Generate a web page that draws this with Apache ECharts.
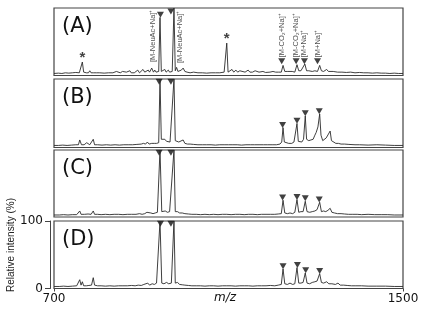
<!DOCTYPE html>
<html>
<head>
<meta charset="utf-8">
<script src="https://cdn.jsdelivr.net/npm/echarts@6/dist/echarts.min.js"></script>
<style>
html, body { margin: 0; padding: 0; background: #fff; }
#chart { width: 426px; height: 318px; }
</style>
</head>
<body>
<div id="chart"></div>
<script>
// spectrum data (m/z, relative intensity %)
var mzA = [700,710,718,726,734,742,750,758,762,765,768,774,779,782,785,790,794,797,805,815,825,835,843,847,852,857,861,866,870,874,877,881,884,888,892,896,900,904,908,912,916,919,924,928,931,934,938,940,943,946,950,954,957,962,965,971,975,978,981,984,988,992,996,1000,1005,1012,1020,1030,1040,1050,1060,1070,1080,1090,1093,1096,1099,1103,1108,1112,1117,1121,1126,1130,1138,1145,1149,1155,1161,1165,1170,1179,1185,1195,1202,1208,1215,1221,1225,1229,1236,1240,1246,1252,1257,1261,1266,1270,1275,1279,1284,1288,1292,1298,1304,1309,1313,1318,1325,1329,1333,1340,1350,1360,1370,1380,1390,1400,1410,1420,1430,1440,1450,1460,1470,1480,1490,1500];
var relA = [3,3.5,3,4,3.5,4,4.5,4,5,20,5,4,4,7,4,4,6,4,4,3.5,4,4,6,4,4,6,4,5,4,7,4,6,4,5,8,4,5,9,5,5,8,5,11,5,8,5,5,6,86,6,5,9,5,8,5,6,100,7,12,6,5,8,11,6,5,4,5,4,4,3.5,4,4,4,5,5,48,5,6,9,5,8,5,7,5,5,8,5,5,7,5,5,6,4.5,5,6,5,5,5,15,6,6,5,6,5,16,7,7,7,17,7,7,8,6,7,6,15,7,6,9,6,7,6,5,5,4.5,5,4,4.5,4,4,3.5,4,3.5,3.5,3,3.5,3,3];

var mzB = [700,710,720,730,740,750,756,759,763,766,769,775,782,786,790,793,800,810,820,830,840,850,860,870,880,890,900,905,910,914,918,924,930,935,940,943,946,950,954,958,962,966,970,975,978,982,986,990,996,1000,1006,1012,1020,1030,1040,1050,1060,1070,1080,1090,1100,1110,1120,1130,1140,1150,1160,1170,1180,1190,1200,1210,1218,1222,1225,1228,1232,1238,1245,1250,1253,1257,1260,1264,1268,1272,1276,1279,1284,1289,1294,1298,1301,1305,1309,1312,1316,1320,1324,1328,1333,1336,1340,1346,1352,1358,1366,1376,1390,1400,1420,1440,1460,1480,1500];
var relB = [3,3,3.5,3,3.5,4,4,11,4,6,4,7,4,4,12,4,4,3.5,4,3.5,4,3.5,4,4,4,4.5,5,6,5,8,5,6,6,6,7,100,12,10,12,9,10,8,9,100,10,12,8,9,11,6,5,5,4.5,4,4,4,4,3.5,4,4,4,4,4,3.5,4,4,4,4,4,4,4,4,5,8,29,8,7,6,6,8,10,35,9,7,8,12,46,12,10,11,12,18,22,30,49,18,10,12,14,14,24,10,8,6,6,5,5,4.5,4,4,3.5,4,3.5,3,3];

var mzC = [700,712,722,732,742,752,756,759,762,766,770,778,785,790,793,800,808,818,828,838,848,858,868,878,888,896,902,908,913,917,922,927,932,937,943,947,951,955,960,965,969,975,978,983,988,994,1000,1008,1016,1026,1036,1046,1056,1066,1076,1086,1096,1106,1116,1126,1136,1146,1156,1166,1176,1186,1196,1206,1214,1221,1225,1229,1235,1241,1247,1252,1257,1261,1266,1271,1276,1280,1286,1292,1298,1303,1309,1313,1318,1323,1328,1333,1337,1343,1350,1358,1366,1375,1385,1395,1405,1420,1435,1450,1465,1480,1500];
var relC = [3,3,3.5,3,3.5,3.5,4,9,4,5,4,4.5,4,9,4,4,3.5,4,3.5,4,4,3.5,4,4,4,5,4,5,7,5,6,5,6,7,100,8,7,9,7,8,7,100,8,8,6,6,5,4.5,4,4,3.5,4,3.5,4,3.5,4,4,3.5,4,4,3.5,4,4,3.5,4,4,4,4,4.5,5,25,6,5,6,5,7,26,7,8,8,23.5,8,7,8,9,11,22,8,9,8,10,13,7,6,5,5,4.5,4,4,4,3.5,4,3.5,3.5,3.5,3,3];

var mzD = [700,712,722,732,742,752,756,759,762,765,768,774,780,786,790,793,800,808,818,828,838,848,858,868,878,886,893,900,906,910,915,919,925,930,935,939,943,947,952,958,963,969,975,978,983,988,994,1000,1008,1016,1026,1036,1046,1056,1066,1076,1086,1096,1106,1116,1126,1136,1146,1156,1166,1176,1186,1196,1206,1214,1221,1225,1229,1235,1241,1247,1252,1257,1261,1266,1271,1276,1280,1286,1292,1298,1303,1309,1313,1318,1325,1330,1337,1345,1351,1356,1364,1372,1382,1392,1405,1420,1440,1460,1480,1500];
var relD = [3,3,3.5,3,3.5,4,4,13,5,10,4,4,4.5,5,16,5,4,4,3.5,4,3.5,4,4,4,4.5,4,5,4.5,6,5,8,5,7,6,8,6,100,8,7,9,7,8,100,8,9,6,5.5,5,4.5,4,4,4,3.5,4,4,3.5,4,4,4,3.5,4,4,4,3.5,4,4,4,4.5,4,5,6,29,7,6,8,6,7,31,8,8,9,23,8,7,9,10,11,22,9,8,10,7,7,6,8,5,5,4.5,4,4,4,3.5,3.5,3.5,3,3];

// peak markers (filled triangles)
var tipMzA = [944, 968, 1222, 1255, 1274, 1304];
var tipRelA = [90, 95, 21, 21, 21, 21];
var tipMzB = [941, 968, 1224, 1257, 1276, 1308];
var tipRelB = [96, 96, 33, 39, 50, 53];
var tipMzC = [941, 968, 1224, 1257, 1276, 1308];
var tipRelC = [96, 96, 29, 30, 28, 26];
var tipMzD = [944, 968, 1225, 1258, 1277, 1309];
var tipRelD = [96, 96, 33, 35, 27, 26];

// ion labels in panel A
var ionNames = ["[M-CO\u2082+Na]\u207A", "[M-CO\u2082+Na]\u207A", "[M+Na]\u207A", "[M+Na]\u207A"];
var sideNames = ["[M-NeuAc+Na]\u207A", "[M-NeuAc+Na]\u207A"];
var sideMz = [926, 988];
var sideRel = [20, 18.5];
var starMz = [765, 1096];
var starRel = [20, 48];

var panelNames = ["(A)", "(B)", "(C)", "(D)"];
var xTicks = [700, 1500];

function zip(a, b) {
	var out = [];
	for (var i = 0; i < a.length; i++) out.push([a[i], b[i]]);
	return out;
}

var chart = echarts.init(document.getElementById("chart"), null, {renderer: "canvas"});

var tops = [8, 79, 150, 221];
var heights = [67.5, 68.5, 67, 67.5];
var spectra = [zip(mzA, relA), zip(mzB, relB), zip(mzC, relC), zip(mzD, relD)];
var tips = [zip(tipMzA, tipRelA), zip(tipMzB, tipRelB), zip(tipMzC, tipRelC), zip(tipMzD, tipRelD)];

var grids = [], xAxes = [], yAxes = [], series = [], graphics = [];
var downTri = "path://M0,0 L10,0 L5,8 Z";

for (var i = 0; i < 4; i++) {
	var last = (i === 3);
	grids.push({
		left: 54, right: 23, top: tops[i], height: heights[i],
		show: true, borderColor: "#444", borderWidth: 1.2
	});
	xAxes.push({
		type: "value", gridIndex: i, min: xTicks[0], max: xTicks[1], interval: xTicks[1] - xTicks[0],
		axisLine: {show: false},
		axisTick: {show: last, length: 3, lineStyle: {color: "#444"}},
		axisLabel: {show: last, margin: 4, fontSize: 12, fontFamily: "DejaVu Sans", color: "#111",
			formatter: function (v) { return String(v); }},
		splitLine: {show: false}
	});
	yAxes.push({
		type: "value", gridIndex: i, min: 0, max: 100, interval: 100,
		offset: 4,
		axisLine: {show: last, lineStyle: {color: "#444", width: 1}},
		axisTick: {show: last, length: 5, lineStyle: {color: "#444"}},
		axisLabel: {show: last, margin: 7, fontSize: 12, fontFamily: "DejaVu Sans", color: "#111"},
		splitLine: {show: false}
	});
	series.push({
		type: "line", xAxisIndex: i, yAxisIndex: i, data: spectra[i],
		symbol: "none", clip: true, animation: false,
		lineStyle: {color: "#2a2a2a", width: 0.9}
	});
	var tipSeries = {
		type: "scatter", xAxisIndex: i, yAxisIndex: i, data: tips[i],
		symbol: downTri, symbolSize: [7, 6], animation: false,
		itemStyle: {color: "#111"}
	};
	if (i === 0) {
		tipSeries.label = {
			show: true, position: "top", distance: 1, rotate: 90,
			align: "left", verticalAlign: "middle",
			fontSize: 7.5, fontFamily: "Liberation Sans", color: "#222",
			formatter: function (p) { return p.dataIndex >= 2 ? ionNames[p.dataIndex - 2] : ""; }
		};
	}
	series.push(tipSeries);
	graphics.push({
		type: "text", left: 62, top: tops[i] + 8,
		style: {text: panelNames[i], fontSize: 21, fontFamily: "DejaVu Sans", fill: "#111"}
	});
}

// side labels of the two big peaks in (A)
series.push({
	type: "scatter", xAxisIndex: 0, yAxisIndex: 0, data: zip(sideMz, sideRel),
	symbolSize: 0, animation: false, silent: true,
	label: {
		show: true, position: "top", distance: 0, rotate: 90,
		align: "left", verticalAlign: "middle",
		fontSize: 7.5, fontFamily: "Liberation Sans", color: "#222",
		formatter: function (p) { return sideNames[p.dataIndex]; }
	}
});
// asterisks
series.push({
	type: "scatter", xAxisIndex: 0, yAxisIndex: 0, data: zip(starMz, starRel),
	symbolSize: 0, animation: false, silent: true,
	label: {
		show: true, position: "top", distance: 0, offset: [0, 3],
		fontSize: 15, fontWeight: "bold", fontFamily: "Liberation Sans", color: "#111",
		formatter: "*"
	}
});

graphics.push({
	type: "text", x: 11, y: 245, rotation: Math.PI / 2,
	style: {text: "Relative intensity (%)", fontSize: 10, fontFamily: "Liberation Sans", fill: "#222", align: "center", verticalAlign: "middle"}
});
graphics.push({
	type: "text", x: 225, y: 298,
	style: {text: "m/z", fontSize: 12, fontStyle: "italic", fontFamily: "DejaVu Sans", fill: "#111", align: "center", verticalAlign: "middle"}
});

chart.setOption({
	animation: false,
	grid: grids,
	xAxis: xAxes,
	yAxis: yAxes,
	series: series,
	graphic: graphics
});
</script>
</body>
</html>
